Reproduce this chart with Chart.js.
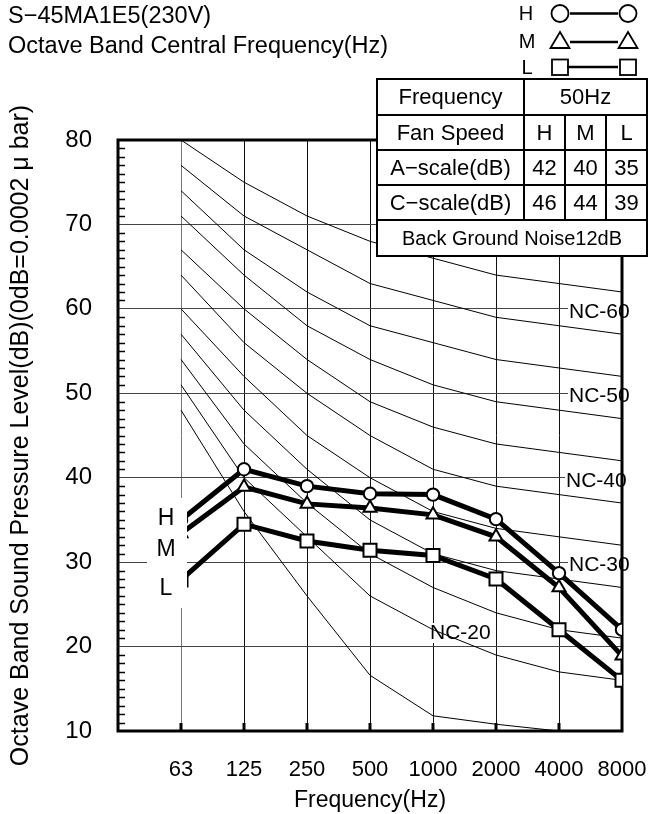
<!DOCTYPE html>
<html>
<head>
<meta charset="utf-8">
<script src="https://cdn.jsdelivr.net/npm/chart.js@4.4.1/dist/chart.umd.min.js"></script>
<style>
html, body { margin: 0; padding: 0; background: #fff; }
canvas { display: block; }
</style>
</head>
<body>
<canvas id="noiseChart" width="649" height="814"></canvas>
<script>
// octave band centres (x categories)
const freqLabels = ["63", "125", "250", "500", "1000", "2000", "4000", "8000"];

// measured sound pressure, dB
const speedH = [35, 41, 39, 38.1, 38, 35.1, 28.7, 22];
const speedM = [33.4, 38.9, 36.9, 36.4, 35.6, 33, 27, 18.9];
const speedL = [27.9, 34.5, 32.5, 31.4, 30.8, 28, 22, 16];

// NC reference curves
const nc15 = [48, 36, 26, 16.6, 11.8, 10.8, 10, null];
const nc20 = [51, 40, 33, 26, 22, 19, 17, 16];
const nc25 = [54, 44, 37, 31, 27, 24, 22, 21];
const nc30 = [57, 48, 41, 35, 31, 29, 28, 27];
const nc35 = [60, 52, 45, 40, 36, 34, 33, 32];
const nc40 = [64, 56, 50, 45, 41, 39, 38, 37];
const nc45 = [67, 60, 54, 49, 46, 44, 43, 42];
const nc50 = [71, 64, 58, 54, 51, 49, 48, 47];
const nc55 = [74, 67, 62, 58, 56, 54, 53, 52];
const nc60 = [77, 71, 67, 63, 61, 59, 58, 57];
const nc65 = [80, 75, 71, 68, 66, 64, 63, 62];

const ncLabels = ["NC-60", "NC-50", "NC-40", "NC-30", "NC-20"];
const yTicks = [10, 20, 30, 40, 50, 60, 70, 80];

// table at top right
const fanSpeeds = ["H", "M", "L"];
const aScale = [42, 40, 35];
const cScale = [46, 44, 39];
const supplyFreq = "50Hz";
const backGround = "Back Ground Noise12dB";

const FONT = "'Liberation Sans', Arial, sans-serif";

const toPoints = (vals) => vals.map((v, i) => ({ x: i, y: v }));

const ncCurves = [nc15, nc20, nc25, nc30, nc35, nc40, nc45, nc50, nc55, nc60, nc65];

const seriesDefs = [
	{ label: "H", data: speedH, pointStyle: "circle", pointRadius: 6.2 },
	{ label: "M", data: speedM, pointStyle: "triangle", pointRadius: 7.5 },
	{ label: "L", data: speedL, pointStyle: "rect", pointRadius: 9.2 },
];

const datasets = [
	...seriesDefs.map((s) => ({
		label: s.label,
		data: toPoints(s.data),
		borderColor: "#000",
		borderWidth: 5,
		pointStyle: s.pointStyle,
		pointRadius: s.pointRadius,
		pointBorderWidth: 2,
		pointBackgroundColor: "#fff",
		pointBorderColor: "#000",
		order: 0,
	})),
	...ncCurves.map((c) => ({
		label: "nc",
		data: toPoints(c),
		borderColor: "#000",
		borderWidth: 1,
		pointRadius: 0,
		order: 1,
	})),
];

/**
 * Frame, minor ticks and NC labels under the data
 */
const underlay = {
	id: "underlay",
	beforeDatasetsDraw(chart) {
		const { ctx, chartArea: a, scales: { x, y } } = chart;
		ctx.save();

		// NC labels with white backing (hides the grid)
		ctx.font = `21px ${FONT}`;
		ctx.textBaseline = "middle";
		ctx.textAlign = "left";
		const spots = [
			[569, y.getPixelForValue(60) + 3],
			[569, y.getPixelForValue(50) + 3],
			[566, y.getPixelForValue(40) + 3],
			[569, y.getPixelForValue(30) + 3],
			[430, 633],
		];
		ncLabels.forEach((t, i) => {
			const [lx, ly] = spots[i];
			const w = ctx.measureText(t).width;
			ctx.fillStyle = "#fff";
			ctx.fillRect(lx - 1, ly - 10, w + 2, 20);
			ctx.fillStyle = "#000";
			ctx.fillText(t, lx, ly);
		});

		// minor ticks on the left axis
		ctx.strokeStyle = "#000";
		ctx.lineWidth = 1.5;
		for (let v = 11; v < 80; v++) {
			if (v % 10 === 0) continue;
			const py = Math.round(y.getPixelForValue(v)) + 0.5;
			ctx.beginPath();
			ctx.moveTo(a.left, py);
			ctx.lineTo(a.left + 7, py);
			ctx.stroke();
		}

		// stubs on the bottom axis
		ctx.lineWidth = 3;
		for (let i = 0; i < freqLabels.length - 1; i++) {
			const px = x.getPixelForValue(i);
			ctx.beginPath();
			ctx.moveTo(px, a.bottom);
			ctx.lineTo(px, a.bottom - 8);
			ctx.stroke();
		}

		// frame
		ctx.lineWidth = 3;
		ctx.strokeRect(a.left, a.top, a.right - a.left, a.bottom - a.top);
		ctx.restore();
	},
};

/**
 * H/M/L tags, table, legend and titles drawn over the data
 */
const overlay = {
	id: "overlay",
	afterDatasetsDraw(chart) {
		const { ctx } = chart;
		ctx.save();

		// H M L tags at the left end of the lines
		ctx.fillStyle = "#fff";
		ctx.fillRect(147, 498, 40, 110);
		ctx.fillStyle = "#000";
		ctx.font = `23px ${FONT}`;
		ctx.textAlign = "center";
		ctx.textBaseline = "middle";
		ctx.fillText("H", 166, 519);
		ctx.fillText("M", 166, 550);
		ctx.fillText("L", 166, 589);

		// table
		const L = 377, R = 647, T = 79, B = 256;
		const rows = [T, 115, 150, 185, 220, B];
		const c1 = 524, c2 = 565, c3 = 606;
		ctx.fillStyle = "#fff";
		ctx.fillRect(L, T, R - L, B - T);
		ctx.strokeStyle = "#000";
		ctx.lineWidth = 2;
		ctx.strokeRect(L, T, R - L, B - T);
		ctx.beginPath();
		rows.slice(1, 5).forEach((ry) => {
			ctx.moveTo(L, ry);
			ctx.lineTo(R, ry);
		});
		ctx.moveTo(c1, T);
		ctx.lineTo(c1, rows[4]);
		ctx.moveTo(c2, rows[1]);
		ctx.lineTo(c2, rows[4]);
		ctx.moveTo(c3, rows[1]);
		ctx.lineTo(c3, rows[4]);
		ctx.stroke();

		ctx.fillStyle = "#000";
		ctx.font = `22px ${FONT}`;
		const mid = (i) => (rows[i] + rows[i + 1]) / 2 + 1;
		ctx.fillText("Frequency", (L + c1) / 2, mid(0));
		ctx.fillText(supplyFreq, (c1 + R) / 2, mid(0));
		ctx.fillText("Fan Speed", (L + c1) / 2, mid(1));
		ctx.fillText("A\u2212scale(dB)", (L + c1) / 2, mid(2));
		ctx.fillText("C\u2212scale(dB)", (L + c1) / 2, mid(3));
		const cols = [(c1 + c2) / 2, (c2 + c3) / 2, (c3 + R) / 2];
		cols.forEach((cx, i) => {
			ctx.fillText(fanSpeeds[i], cx, mid(1));
			ctx.fillText(String(aScale[i]), cx, mid(2));
			ctx.fillText(String(cScale[i]), cx, mid(3));
		});
		ctx.font = `20px ${FONT}`;
		ctx.fillText(backGround, (L + R) / 2, mid(4));

		// legend
		ctx.font = `20px ${FONT}`;
		ctx.fillText("H", 526, 14);
		ctx.fillText("M", 527, 42);
		ctx.fillText("L", 527, 68);
		ctx.lineWidth = 2.5;
		ctx.beginPath();
		ctx.moveTo(570, 13.5); ctx.lineTo(618, 13.5);
		ctx.moveTo(570, 42); ctx.lineTo(618, 42);
		ctx.moveTo(567, 67); ctx.lineTo(618, 67);
		ctx.stroke();
		ctx.lineWidth = 1.8;
		[560, 628].forEach((cx) => {
			ctx.beginPath();
			ctx.arc(cx, 13.5, 8.5, 0, Math.PI * 2);
			ctx.stroke();
			ctx.beginPath();
			ctx.moveTo(cx, 32);
			ctx.lineTo(cx + 9.5, 48);
			ctx.lineTo(cx - 9.5, 48);
			ctx.closePath();
			ctx.stroke();
			ctx.strokeRect(cx - 8, 59.5, 16, 15.5);
		});

		// titles
		ctx.textAlign = "left";
		ctx.font = `23.5px ${FONT}`;
		ctx.fillText("S\u221245MA1E5(230V)", 8, 17);
		ctx.fillText("Octave Band Central Frequency(Hz)", 8, 47);

		ctx.restore();
	},
};

Chart.defaults.font.family = FONT;
Chart.defaults.color = "#000";

new Chart(document.getElementById("noiseChart"), {
	type: "line",
	data: { datasets },
	options: {
		responsive: false,
		animation: false,
		events: [],
		layout: { padding: { top: 140, right: 27, left: 0, bottom: 0 } },
		plugins: {
			legend: { display: false },
			tooltip: { enabled: false },
		},
		scales: {
			x: {
				type: "linear",
				min: -1,
				max: freqLabels.length - 1,
				afterFit: (s) => {
					s.height = 83;
					s.paddingLeft = 0;
					s.paddingRight = 0;
				},
				border: { display: false },
				grid: {
					drawTicks: false,
					color: (c) => {
						const v = c.tick.value;
						if (v < 0 || v >= freqLabels.length - 1) return "rgba(0,0,0,0)";
						return v === 0 ? "#777" : "#111";
					},
				},
				ticks: {
					stepSize: 1,
					autoSkip: false,
					maxRotation: 0,
					padding: 26,
					font: { size: 22 },
					callback: (v) => freqLabels[v] ?? "",
				},
				title: {
					display: true,
					text: "Frequency(Hz)",
					font: { size: 23 },
					padding: { top: 0, bottom: 0 },
				},
			},
			y: {
				min: yTicks[0],
				max: yTicks[yTicks.length - 1],
				afterFit: (s) => {
					s.width = 118;
					s.paddingTop = 0;
					s.paddingBottom = 0;
				},
				border: { display: false },
				grid: {
					drawTicks: false,
					color: (c) => {
						const v = c.tick.value;
						return v === yTicks[0] || v === yTicks[yTicks.length - 1] ? "rgba(0,0,0,0)" : "#444";
					},
				},
				ticks: {
					stepSize: 10,
					padding: 26,
					font: { size: 24 },
				},
				title: {
					display: true,
					text: "Octave Band Sound Pressure Level(dB)(0dB=0.0002 \u03bc bar)",
					font: { size: 25 },
					padding: { top: 6, bottom: 0 },
				},
			},
		},
	},
	plugins: [underlay, overlay],
});
</script>
</body>
</html>
